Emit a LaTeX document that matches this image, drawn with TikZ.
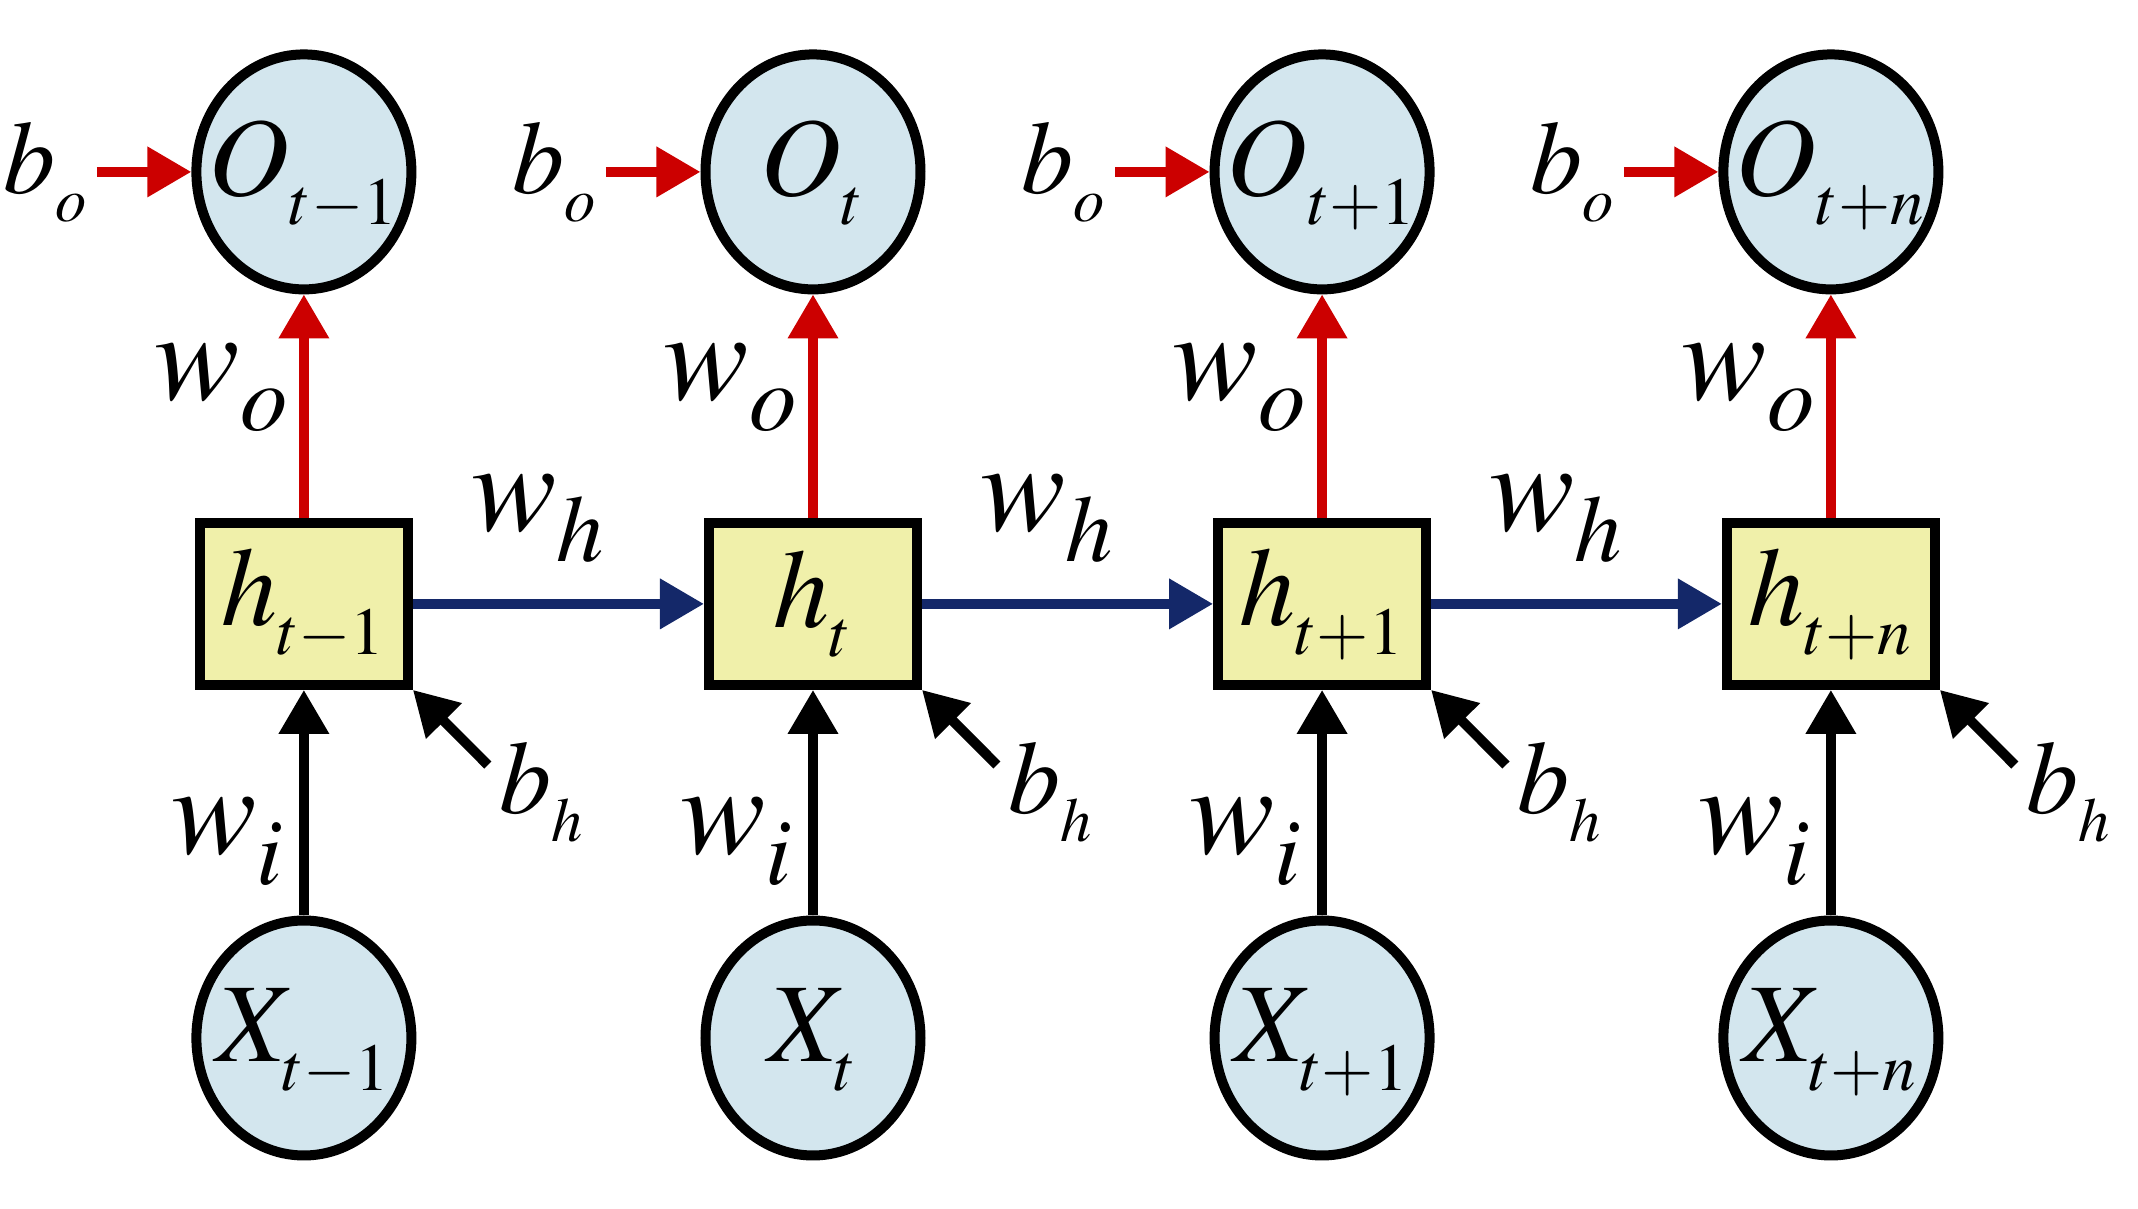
\documentclass[tikz,border=0pt]{standalone}
\usepackage{mathptmx}
\usetikzlibrary{arrows.meta,shapes.geometric}

\newcommand{\ssub}[1]{_{\lower 3pt\hbox{$\scriptscriptstyle #1$}}}
\newcommand{\msub}[1]{_{\lower 3pt\hbox{$\scriptstyle #1$}}}
\newcommand{\ctr}[1]{\makebox[0pt]{\raisebox{-6pt}[0pt][0pt]{#1}}}

\tikzset{every picture/.style={line width=0.75pt}}
\tikzset{
  unit/.style={ellipse, draw, line width=2.5pt, fill={rgb, 255:red, 211; green, 230; blue, 238}, minimum width=53.75pt, minimum height=58.75pt, inner sep=0pt, font=\fontsize{28}{34}\selectfont},
  hbox/.style={rectangle, draw, line width=2.5pt, fill={rgb, 255:red, 240; green, 240; blue, 170}, minimum width=52pt, minimum height=40.5pt, inner sep=0pt, font=\fontsize{28}{34}\selectfont},
  wlbl/.style={inner sep=0pt, font=\fontsize{32}{38}\selectfont},
  blbl/.style={inner sep=0pt, outer sep=2pt, font=\fontsize{26}{32}\selectfont},
  redarr/.style={color={rgb, 255:red, 204; green, 0; blue, 0}, line width=2.5pt, -{Triangle[length=11pt,width=12pt]}},
  bluearr/.style={color={rgb, 255:red, 20; green, 40; blue, 105}, line width=2.5pt, -{Triangle[length=11pt,width=12pt]}},
  blackarr/.style={color=black, line width=2.5pt, -{Triangle[length=11pt,width=12pt]}}
}

\begin{document}
\begin{tikzpicture}[x=0.75pt,y=0.75pt,yscale=-1,xscale=1]
\useasboundingbox (0,0) rectangle (712.67,403);

%Shape: Ellipse (outputs)
\node [unit] (O1) at (101.3,57.3) {\ctr{$O\ssub{t-1}$}};
\node [unit] (O2) at (271,57.3) {\ctr{$O\ssub{t}$}};
\node [unit] (O3) at (440.7,57.3) {\ctr{$O\ssub{t+1}$}};
\node [unit] (O4) at (610.3,57.3) {\ctr{$O\ssub{t+n}$}};
%Shape: Rectangle (hidden states)
\node [hbox] (h1) at (101.3,201.3) {$h\ssub{t-1}$};
\node [hbox] (h2) at (271,201.3) {$h\ssub{t}$};
\node [hbox] (h3) at (440.7,201.3) {$h\ssub{t+1}$};
\node [hbox] (h4) at (610.3,201.3) {$h\ssub{t+n}$};
%Shape: Ellipse (inputs)
\node [unit] (X1) at (101.3,346) {\ctr{$X\ssub{t-1}$}};
\node [unit] (X2) at (271,346) {\ctr{$X\ssub{t}$}};
\node [unit] (X3) at (440.7,346) {\ctr{$X\ssub{t+1}$}};
\node [unit] (X4) at (610.3,346) {\ctr{$X\ssub{t+n}$}};

% Text Node
\node [blbl, anchor=east] (bo1) at (32.3,57.3) {$b\ssub{o}$};
\node [blbl, anchor=east] (bo2) at (202,57.3) {$b\ssub{o}$};
\node [blbl, anchor=east] (bo3) at (371.7,57.3) {$b\ssub{o}$};
\node [blbl, anchor=east] (bo4) at (541.3,57.3) {$b\ssub{o}$};
% Text Node
\node [wlbl] (wo1) at (74,129.3) {$w\msub{o}$};
\node [wlbl] (wo2) at (243.7,129.3) {$w\msub{o}$};
\node [wlbl] (wo3) at (413.4,129.3) {$w\msub{o}$};
\node [wlbl] (wo4) at (583,129.3) {$w\msub{o}$};
% Text Node
\node [wlbl] (wh1) at (179.5,173) {$w\msub{h}$};
\node [wlbl] (wh2) at (349.2,173) {$w\msub{h}$};
\node [wlbl] (wh3) at (518.9,173) {$w\msub{h}$};
% Text Node
\node [wlbl] (wi1) at (76,280.7) {$w\msub{i}$};
\node [wlbl] (wi2) at (245.7,280.7) {$w\msub{i}$};
\node [wlbl] (wi3) at (415.4,280.7) {$w\msub{i}$};
\node [wlbl] (wi4) at (585,280.7) {$w\msub{i}$};
% Text Node
\node [blbl] (bh1) at (180.6,264) {$b\ssub{h}$};
\node [blbl] (bh2) at (350.3,264) {$b\ssub{h}$};
\node [blbl] (bh3) at (520,264) {$b\ssub{h}$};
\node [blbl] (bh4) at (689.6,264) {$b\ssub{h}$};
\coordinate (bt1) at (162.6,255);
\coordinate (bt2) at (332.3,255);
\coordinate (bt3) at (502,255);
\coordinate (bt4) at (671.6,255);

%Straight Lines
\draw [redarr] (bo1) -- (O1);
\draw [redarr] (bo2) -- (O2);
\draw [redarr] (bo3) -- (O3);
\draw [redarr] (bo4) -- (O4);
%Straight Lines
\draw [redarr] (h1) -- (O1);
\draw [redarr] (h2) -- (O2);
\draw [redarr] (h3) -- (O3);
\draw [redarr] (h4) -- (O4);
%Straight Lines
\draw [bluearr] (h1) -- (h2);
\draw [bluearr] (h2) -- (h3);
\draw [bluearr] (h3) -- (h4);
%Straight Lines
\draw [blackarr] (X1) -- (h1);
\draw [blackarr] (X2) -- (h2);
\draw [blackarr] (X3) -- (h3);
\draw [blackarr] (X4) -- (h4);
%Straight Lines
\draw [blackarr] (bt1) -- (h1.south east);
\draw [blackarr] (bt2) -- (h2.south east);
\draw [blackarr] (bt3) -- (h3.south east);
\draw [blackarr] (bt4) -- (h4.south east);

\end{tikzpicture}
\end{document}
